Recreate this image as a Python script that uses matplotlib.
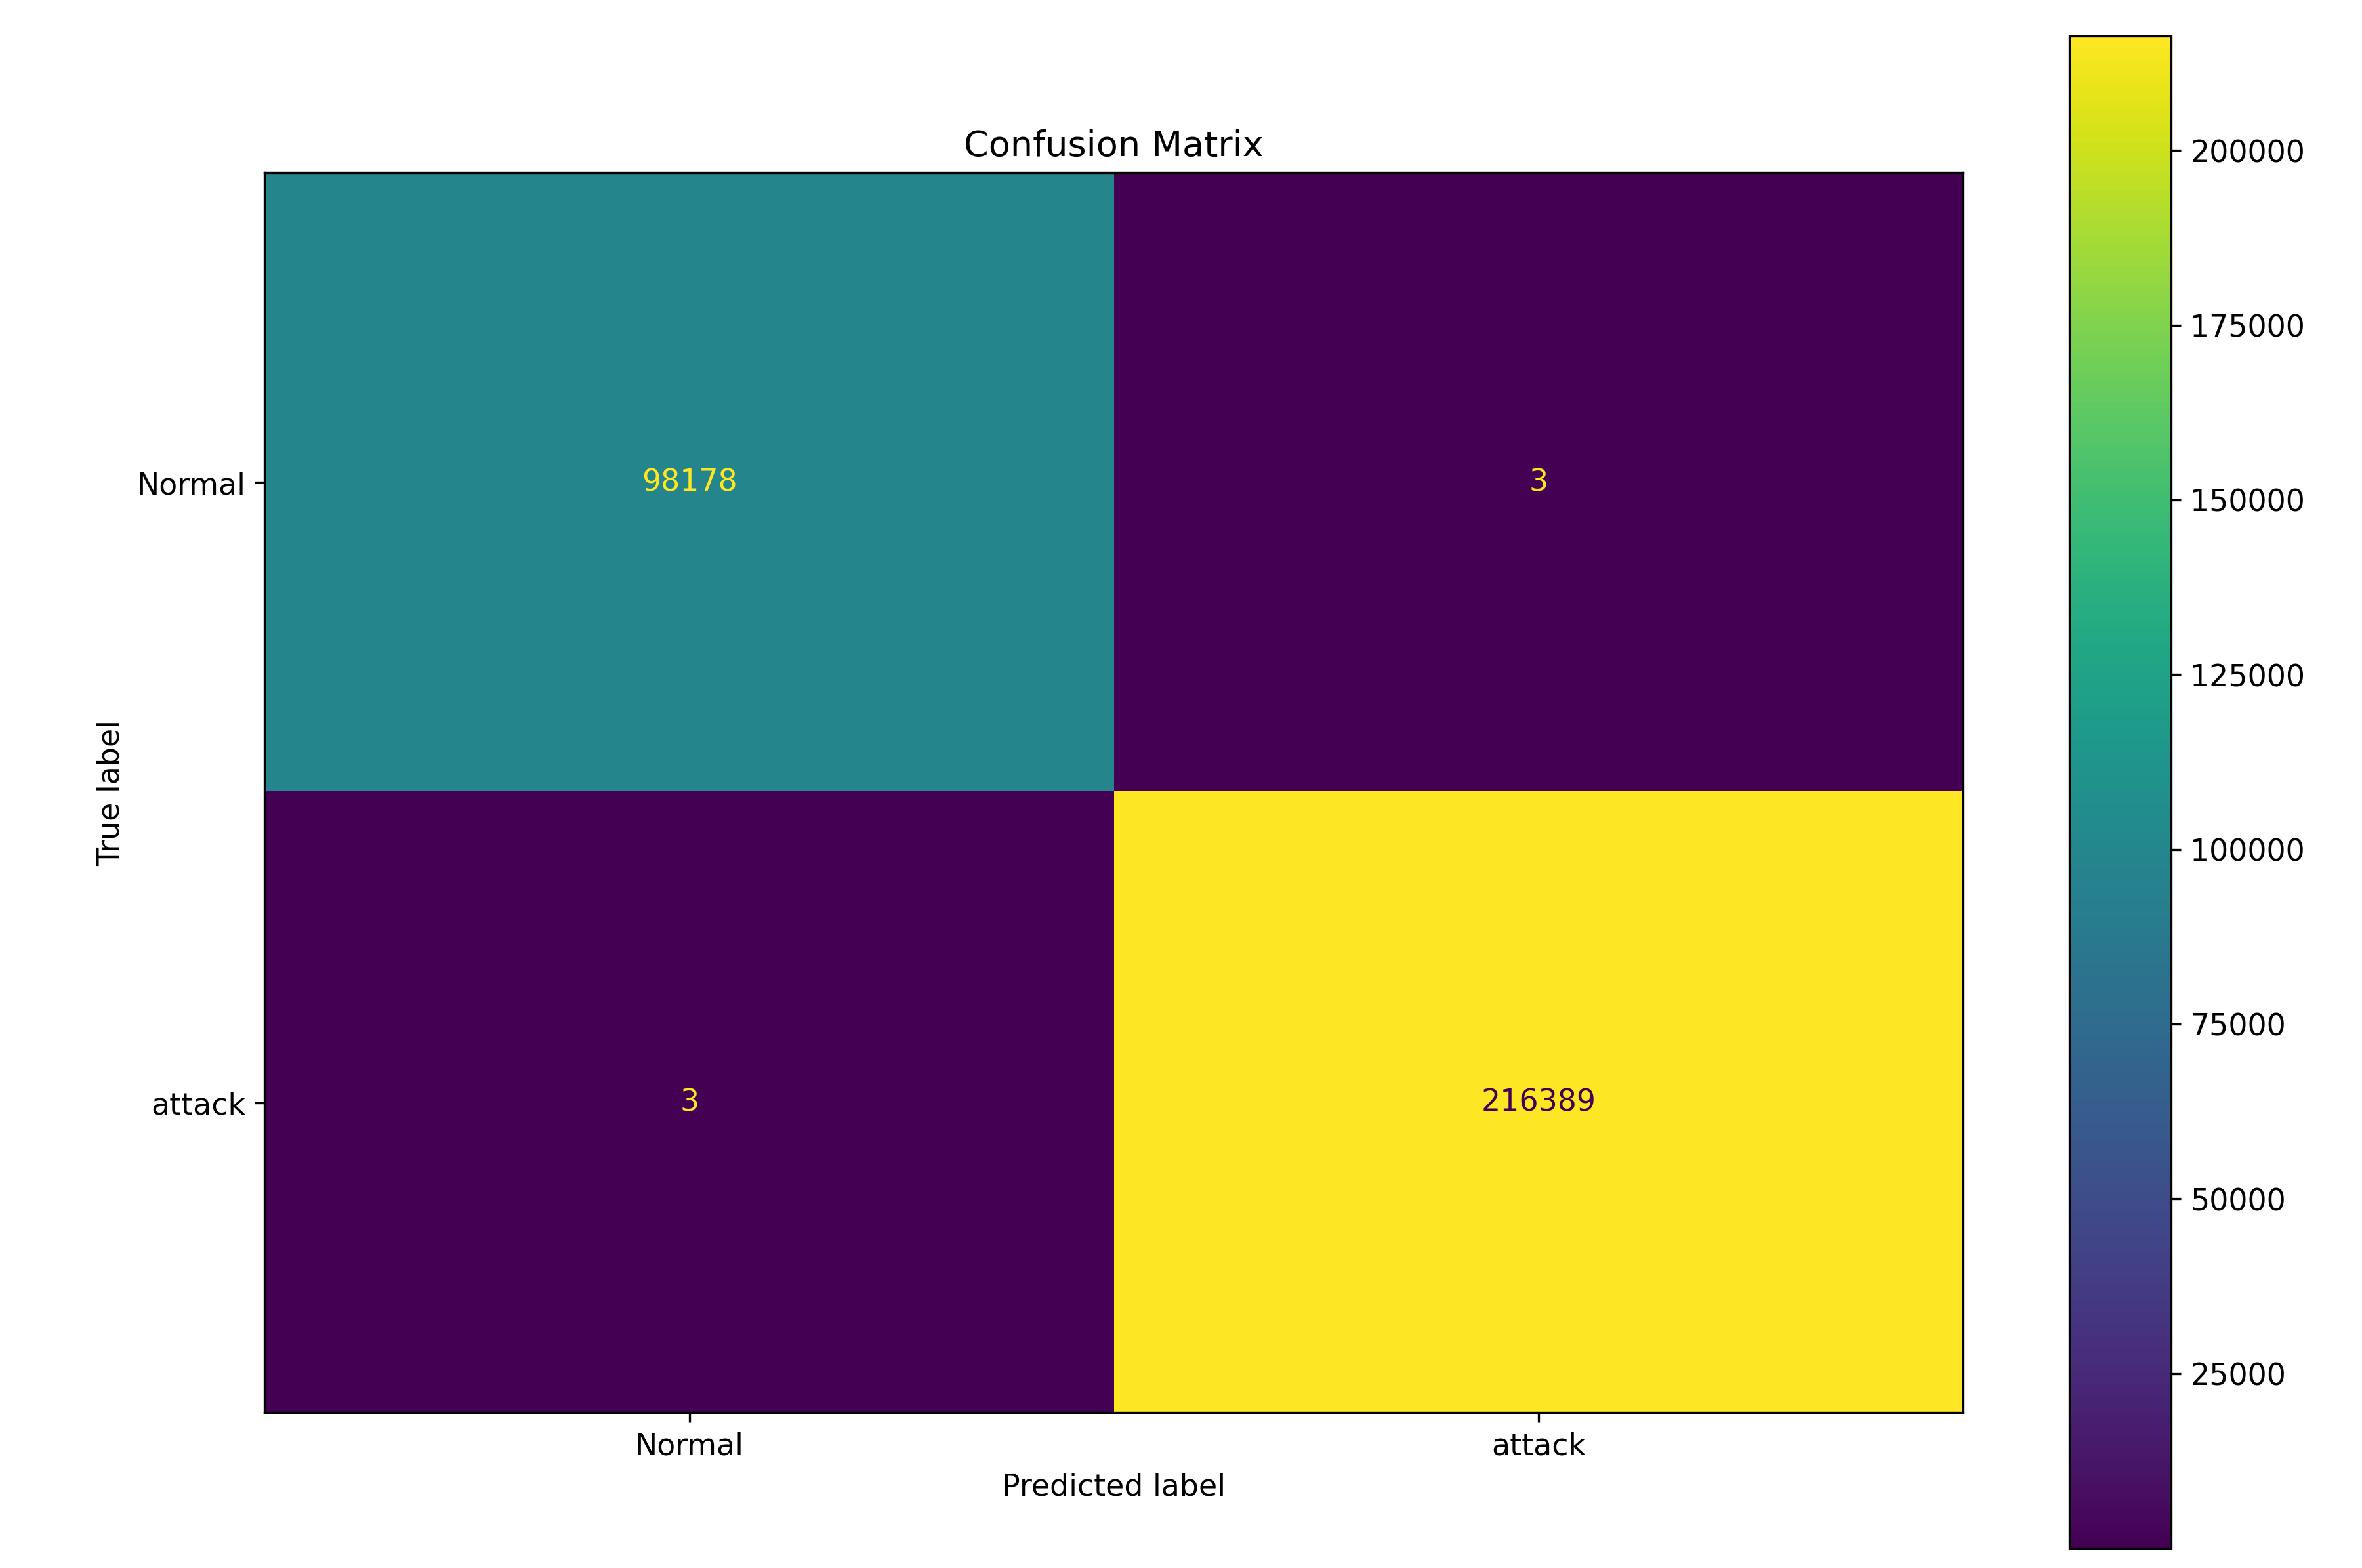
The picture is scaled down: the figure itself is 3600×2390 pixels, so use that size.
import numpy as np
import matplotlib
matplotlib.use("Agg")
import matplotlib.pyplot as plt

labels = ["Normal", "attack"]
cm = np.array([[98178, 3],
               [3, 216389]])
cbar_ticks = [25000, 50000, 75000, 100000, 125000, 150000, 175000, 200000]

fig = plt.figure(figsize=(12.003, 7.967), dpi=300)
ax = fig.add_axes([0.112, 0.099, 0.719, 0.791])
cax = fig.add_axes([0.876, 0.0125, 0.043, 0.9645])

im = ax.imshow(cm, cmap="viridis", aspect="auto", interpolation="nearest")
cmap = im.cmap
thresh = (cm.max() + cm.min()) / 2.0
for i in range(2):
    for j in range(2):
        color = cmap(1.0) if cm[i, j] < thresh else cmap(0.0)
        ax.text(j, i, str(cm[i, j]), ha="center", va="center", color=color, fontsize=11)

ax.set_xticks(range(2))
ax.set_yticks(range(2))
ax.set_xticklabels(labels, fontsize=11)
ax.set_yticklabels(labels, fontsize=11)
ax.set_xlabel("Predicted label", fontsize=11)
ax.set_ylabel("True label", fontsize=11)
ax.set_title("Confusion Matrix", fontsize=13)

cb = fig.colorbar(im, cax=cax)
cb.set_ticks(cbar_ticks)
cb.ax.tick_params(labelsize=11)

fig.savefig("out.png", dpi=300)
